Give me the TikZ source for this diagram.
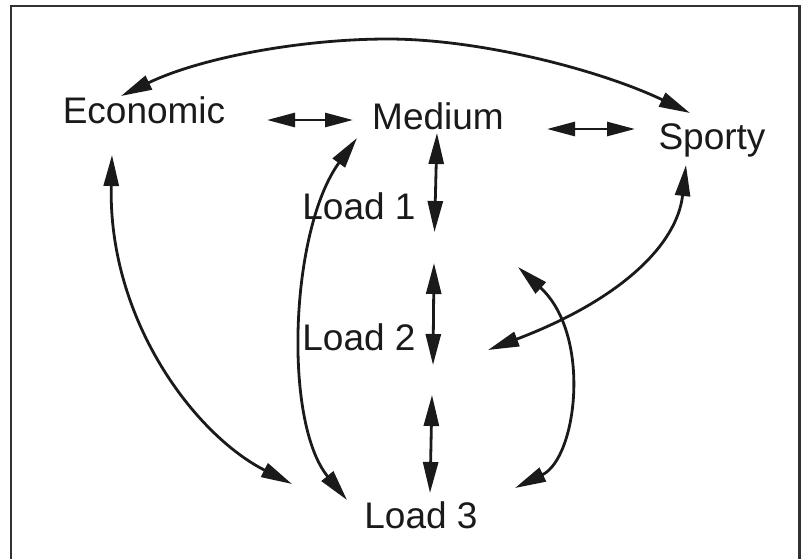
\documentclass[tikz,border=0pt]{standalone}
\usepackage{fontspec}
\setmainfont{Liberation Sans}
\usetikzlibrary{arrows.meta}
\definecolor{ink}{HTML}{1A1A1A}
\begin{document}
\begin{tikzpicture}[x=1pt,y=-1pt,
  lbl/.style={inner sep=0pt,anchor=base,font=\fontsize{37}{40}\selectfont,text=ink},
  conn/.style={draw=ink,line width=2.8pt,{Triangle[length=31pt,width=15pt]}-{Triangle[length=31pt,width=15pt]}},
  short/.style={draw=ink,line width=2.8pt,{Triangle[length=28pt,width=14pt]}-{Triangle[length=28pt,width=14pt]}},
  frame/.style={draw=ink!90,line width=2.6pt}]
\useasboundingbox (0,0) rectangle (801,558);
\draw[frame] (11,560) -- (11,6) -- (799.5,6) -- (799.5,560);
% labels
\node[lbl] (eco) at (144,123.5) {Economic};
\node[lbl] (med) at (438,129) {Medium};
\node[lbl] (spo) at (712,149) {Sporty};
\node[lbl] (l1) at (359,219) {Load 1};
\node[lbl] (l2) at (359,350) {Load 2};
\node[lbl] (l3) at (421,528) {Load 3};
% connector end points
\coordinate (emE) at (267,120);
\coordinate (emM) at (353,120);
\coordinate (msM) at (547,129);
\coordinate (msS) at (635,129);
\coordinate (arcE) at (121,96);
\coordinate (arcTop) at (388,39);
\coordinate (arcS) at (690,113);
\coordinate (m1a) at (437,133);
\coordinate (m1b) at (434.5,232);
\coordinate (v2a) at (434,263);
\coordinate (v2b) at (433,365);
\coordinate (v3a) at (432,395);
\coordinate (v3b) at (430,493);
\coordinate (e3a) at (112,155);
\coordinate (e3b) at (292,484);
\coordinate (m3a) at (357,138);
\coordinate (m3b) at (347,500);
\coordinate (s2a) at (686,165);
\coordinate (s2b) at (488,350);
\coordinate (r3a) at (518,267);
\coordinate (r3b) at (515,488);
% connectors
\path[short] (emE) -- (emM);
\path[short] (msM) -- (msS);
\path[conn] (arcE) .. controls (200,58) and (300,39) .. (arcTop) .. controls (480,39) and (600,70) .. (arcS);
\path[conn] (m1a) -- (m1b);
\path[conn] (v2a) -- (v2b);
\path[conn] (v3a) -- (v3b);
\path[conn] (e3a) .. controls (108,320) and (195,435) .. (e3b);
\path[conn] (m3a) .. controls (290,230) and (283,422) .. (m3b);
\path[conn] (s2a) .. controls (677,245) and (620,300) .. (s2b);
\path[conn] (r3a) .. controls (592,335) and (577,458) .. (r3b);
\end{tikzpicture}
\end{document}
